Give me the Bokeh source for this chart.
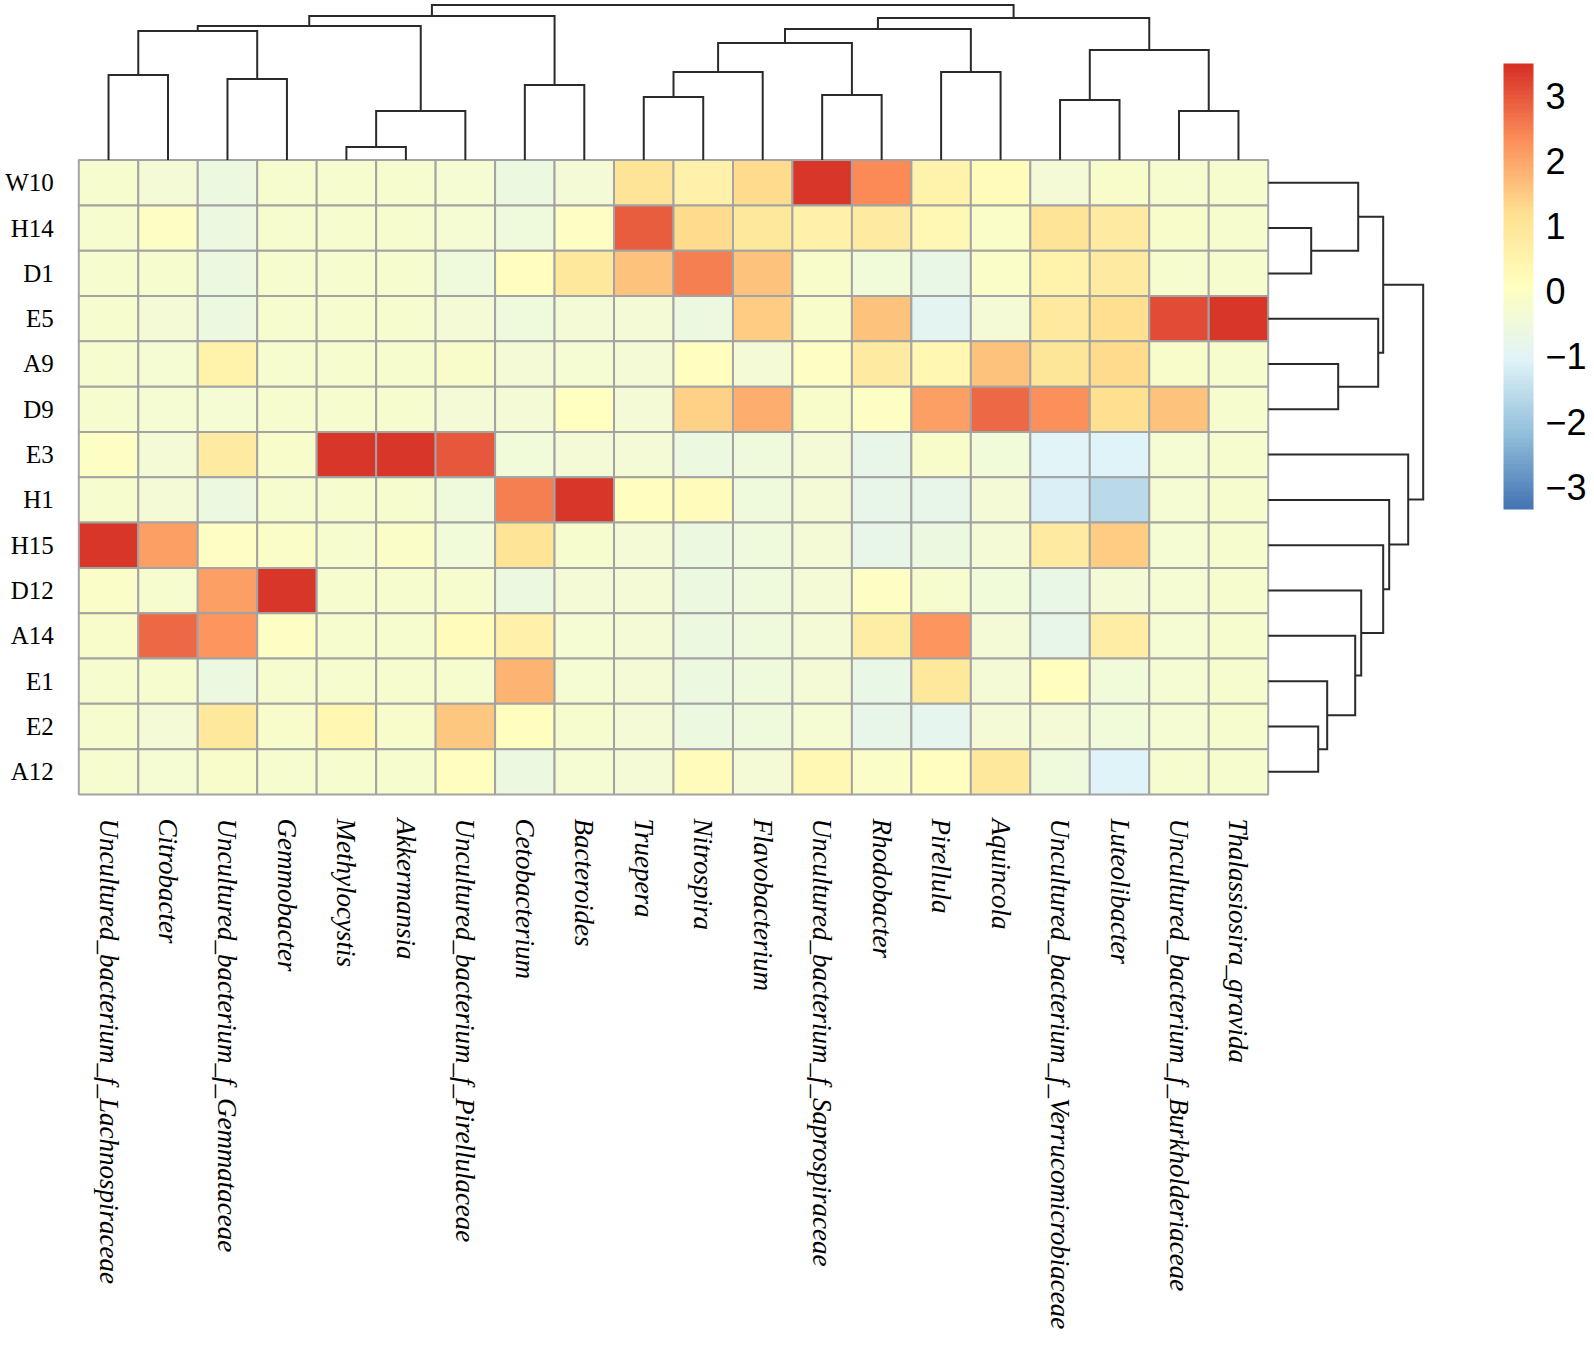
import numpy as np
from bokeh.plotting import figure
from bokeh.models import ColumnDataSource, LinearColorMapper, ColorBar, FixedTicker, Range1d
from bokeh.transform import transform
from bokeh.core.properties import value
from bokeh.embed import file_html
from bokeh.resources import INLINE

# ---------------- data ----------------
row_labels = ["W10", "H14", "D1", "E5", "A9", "D9", "E3", "H1", "H15", "D12", "A14", "E1", "E2", "A12"]
col_labels = [
    "Uncultured_bacterium_f_Lachnospiraceae", "Citrobacter", "Uncultured_bacterium_f_Gemmataceae",
    "Gemmobacter", "Methylocystis", "Akkermansia", "Uncultured_bacterium_f_Pirellulaceae",
    "Cetobacterium", "Bacteroides", "Truepera", "Nitrospira", "Flavobacterium",
    "Uncultured_bacterium_f_Saprospiraceae", "Rhodobacter", "Pirellula", "Aquincola",
    "Uncultured_bacterium_f_Verrucomicrobiaceae", "Luteolibacter",
    "Uncultured_bacterium_f_Burkholderiaceae", "Thalassiosira_gravida",
]

# row-scaled abundance (z-scores), one list per sample, columns in the order above
W10 = [-0.2, -0.35, -0.6, -0.2, -0.2, -0.2, -0.3, -0.55, -0.35, 1.1, 0.6, 1.3, 3.4, 2.4, 0.5, 0.2, -0.4, -0.15, -0.2, -0.2]
H14 = [-0.2, 0.0, -0.6, -0.2, -0.2, -0.2, -0.3, -0.5, 0.0, 2.9, 1.3, 0.9, 0.6, 0.8, 0.3, -0.1, 1.1, 0.8, -0.15, -0.2]
D1 = [-0.2, -0.25, -0.6, -0.2, -0.2, -0.2, -0.5, 0.1, 0.9, 1.6, 2.5, 1.6, -0.15, -0.45, -0.7, -0.1, 0.5, 0.8, -0.2, -0.2]
E5 = [-0.2, -0.35, -0.6, -0.2, -0.2, -0.2, -0.4, -0.5, -0.35, -0.4, -0.6, 1.5, -0.15, 1.6, -0.9, -0.4, 0.85, 1.2, 3.1, 3.4]
A9 = [-0.2, -0.3, 0.5, -0.2, -0.2, -0.2, -0.15, -0.35, -0.3, -0.35, 0.1, -0.4, 0.0, 0.8, 0.35, 1.6, 1.0, 1.3, -0.15, -0.2]
D9 = [-0.2, -0.3, -0.3, -0.2, -0.2, -0.2, -0.35, -0.35, 0.05, -0.35, 1.4, 1.9, -0.15, -0.05, 2.1, 2.8, 2.3, 1.2, 1.6, -0.2]
E3 = [0.0, -0.35, 0.8, -0.15, 3.4, 3.4, 3.0, -0.45, -0.35, -0.4, -0.6, -0.5, -0.4, -0.8, -0.15, -0.45, -1.0, -1.05, -0.3, -0.2]
H1 = [-0.2, -0.35, -0.6, -0.2, -0.2, -0.2, -0.5, 2.5, 3.4, 0.1, 0.2, -0.5, -0.35, -0.75, -0.8, -0.4, -1.1, -1.6, -0.3, -0.2]
H15 = [3.4, 2.1, 0.0, -0.1, -0.2, -0.1, -0.45, 1.1, -0.25, -0.4, -0.55, -0.5, -0.35, -0.75, -0.6, -0.4, 0.8, 1.5, -0.3, -0.2]
D12 = [-0.1, -0.2, 2.1, 3.4, -0.2, -0.25, -0.2, -0.55, -0.35, -0.4, -0.55, -0.5, -0.35, 0.0, -0.2, -0.45, -0.7, -0.35, -0.3, -0.2]
A14 = [-0.15, 2.8, 2.2, -0.05, -0.2, -0.2, 0.15, 0.6, -0.3, -0.4, -0.55, -0.5, -0.35, 0.75, 2.2, -0.35, -0.75, 0.75, -0.3, -0.2]
E1 = [-0.2, -0.2, -0.6, -0.2, -0.2, -0.25, -0.2, 1.8, -0.3, -0.4, -0.55, -0.5, -0.4, -0.7, 0.9, -0.35, 0.1, -0.45, -0.3, -0.2]
E2 = [-0.2, -0.35, 0.9, -0.15, 0.35, -0.15, 1.55, 0.1, -0.2, -0.4, -0.6, -0.5, -0.3, -0.75, -0.85, -0.4, -0.35, -0.45, -0.3, -0.2]
A12 = [-0.2, -0.3, -0.15, -0.25, -0.2, -0.25, 0.1, -0.55, -0.3, -0.4, 0.15, -0.4, 0.3, -0.1, 0.1, 0.9, -0.5, -1.05, -0.2, -0.2]
matrix = [W10, H14, D1, E5, A9, D9, E3, H1, H15, D12, A14, E1, E2, A12]

# clustering trees: (left, right, merge height); leaves are indices
col_tree = (
    ((((0, 1, 85), (2, 3, 81), 129), ((4, 5, 13), 6, 49), 134), (7, 8, 75), 144),
    (((((9, 10, 63), 11, 88), (12, 13, 65), 117), (14, 15, 88), 131),
     ((16, 17, 60), (18, 19, 49), 110), 142),
    155,
)
row_tree = (
    ((0, (1, 2, 43), 90), (3, (4, 5, 70), 110), 115),
    (6, (7, (8, (9, (10, (11, (12, 13, 50), 59), 87), 93), 115), 121), 140),
    155,
)

color_low, color_high = -3.35, 3.5
legend_ticks = [-3, -2, -1, 0, 1, 2, 3]

# ---------------- palette (RdYlBu reversed, 100 steps) ----------------
anchors = ["#4575B4", "#91BFDB", "#E0F3F8", "#FFFFBF", "#FEE090", "#FC8D59", "#D73027"]
anc = np.array([[int(c[i:i + 2], 16) for i in (1, 3, 5)] for c in anchors], dtype=float)
pos = np.linspace(0, 1, len(anchors))
palette = []
for t in np.linspace(0, 1, 100):
    rgb = [np.interp(t, pos, anc[:, k]) for k in range(3)]
    palette.append("#%02X%02X%02X" % tuple(int(round(v)) for v in rgb))

# ---------------- layout constants ----------------
W, H = 1590, 1340
n_rows, n_cols = len(row_labels), len(col_labels)
cw, rh = 59.47, 45.31          # pixel size of a cell
left_px, top_px = 78.3, 159.6  # heatmap corner inside the canvas
x0 = -left_px / cw
x1 = x0 + W / cw
y1 = n_rows + top_px / rh
y0 = y1 - H / rh

p = figure(width=W, height=H, x_range=Range1d(x0, x1), y_range=Range1d(y0, y1),
           output_backend="svg", toolbar_location=None, min_border=0,
           x_axis_location=None, y_axis_location=None)
p.grid.visible = False
p.outline_line_color = None
p.background_fill_color = "white"

# ---------------- heatmap ----------------
xs, ys, vals = [], [], []
for i, rowvals in enumerate(matrix):
    for j, v in enumerate(rowvals):
        xs.append(j + 0.5)
        ys.append(n_rows - i - 0.5)
        vals.append(v)
src = ColumnDataSource(dict(x=xs, y=ys, v=vals))
mapper = LinearColorMapper(palette=palette, low=color_low, high=color_high)
p.rect(x="x", y="y", width=1, height=1, source=src,
       fill_color=transform("v", mapper), line_color="#A3A3A3", line_width=2)

# ---------------- dendrograms ----------------
def dendro(node):
    if isinstance(node, int):
        return node + 0.5, 0.0, []
    l, r, h = node
    lp, lh, ls = dendro(l)
    rp, rhh, rs = dendro(r)
    return (lp + rp) / 2, h, ls + rs + [([lp, lp, rp, rp], [lh, h, h, rhh])]

top_scale = 1.0 / rh     # dendrogram height (px units) -> rows
right_scale = 1.0 / cw   # dendrogram height (px units) -> cols

_, _, csegs = dendro(col_tree)
p.multi_line(xs=[s[0] for s in csegs],
             ys=[[n_rows + h * top_scale for h in s[1]] for s in csegs],
             line_color="#2a2a2a", line_width=2, line_join="miter")

_, _, rsegs = dendro(row_tree)
p.multi_line(xs=[[n_cols + h * right_scale for h in s[1]] for s in rsegs],
             ys=[[n_rows - q for q in s[0]] for s in rsegs],
             line_color="#2a2a2a", line_width=2, line_join="miter")

# ---------------- labels ----------------
p.text(x=[-25 / cw] * n_rows, y=[n_rows - i - 0.5 for i in range(n_rows)], text=row_labels,
       text_align="right", text_baseline="middle", text_font=value("Liberation Serif"),
       text_font_size="25px", text_color="black")

p.text(x=[j + 0.5 for j in range(n_cols)], y=[-24 / rh] * n_cols, text=col_labels,
       angle=-np.pi / 2, text_align="left", text_baseline="middle",
       text_font=value("Liberation Serif"), text_font_style="italic",
       text_font_size="27px", text_color="black")

# ---------------- colour legend ----------------
cb = ColorBar(color_mapper=mapper, ticker=FixedTicker(ticks=legend_ticks),
              major_label_overrides={t: str(t).replace("-", "\u2212") for t in legend_ticks},
              width=30, height=446, location=(1503, H - 509), padding=0, margin=0,
              bar_line_color=None, major_tick_line_color=None, minor_tick_line_color=None,
              label_standoff=12, major_label_text_font="Liberation Sans",
              major_label_text_font_size="36px", major_label_text_color="black",
              background_fill_alpha=0, border_line_color=None)
p.add_layout(cb)

open("out.html", "w").write(file_html(p, INLINE))
